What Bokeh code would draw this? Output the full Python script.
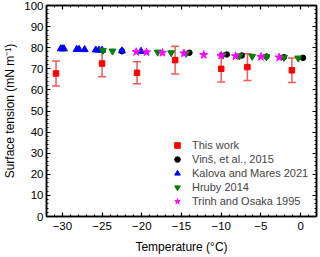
from bokeh.plotting import figure
from bokeh.models import (ColumnDataSource, Whisker, TeeHead, LinearAxis, SingleIntervalTicker,
                          Range1d, Legend, LegendItem, CustomJSTickFormatter)
from bokeh.embed import file_html
from bokeh.resources import INLINE

# ---- data ----
this_T = [-30.8, -25.0, -20.6, -15.8, -10.0, -6.7, -1.1]
this_sigma = [67.8, 72.5, 68.1, 74.1, 70.0, 70.8, 69.3]
this_err = [5.9, 6.3, 5.2, 6.6, 6.3, 6.3, 5.8]

vins_T = [-22.5, -14.0, -9.3, -7.4, -4.3, -2.1, 0.3]
vins_sigma = [78.3, 77.6, 76.8, 76.3, 75.8, 75.5, 75.2]

kalova_T = [-30.2, -30.0, -29.8, -28.2, -27.9, -27.2, -25.8, -25.4, -25.0, -22.5, -20.1]
kalova_sigma = [79.5, 79.5, 79.5, 79.2, 79.2, 79.1, 78.9, 78.9, 78.8, 78.5, 78.3]

hruby_T = [-24.9, -23.7, -18.0, -16.3, -14.4, -9.8, -7.7, -6.1, -4.3, -2.1, -0.3]
hruby_sigma = [78.7, 78.4, 77.9, 77.6, 77.3, 76.5, 76.1, 75.9, 75.7, 75.4, 75.1]

trinh_T = [-20.7, -19.4, -17.4, -14.7, -12.2, -10.0, -8.2, -5.0, -2.7]
trinh_sigma = [78.0, 77.9, 77.6, 77.3, 76.6, 76.3, 76.0, 75.7, 75.4]

labels = ["This work", "Vinš, et al., 2015", "Kalova and Mares 2021",
          "Hruby 2014", "Trinh and Osaka 1995"]

FONT = "Liberation Sans"

p = figure(width=319, height=256, output_backend="svg", toolbar_location=None,
           x_range=Range1d(-32, 2), y_range=Range1d(0, 100),
           min_border_left=41, min_border_right=3, min_border_top=5, min_border_bottom=39)
p.xgrid.visible = False
p.ygrid.visible = False
p.outline_line_color = "black"
p.outline_line_width = 1.5

xt = SingleIntervalTicker(interval=5, num_minor_ticks=5)
yt = SingleIntervalTicker(interval=10, num_minor_ticks=5)
p.xaxis.ticker = xt
p.yaxis.ticker = yt
p.xaxis.axis_label = "Temperature (°C)"
p.yaxis.axis_label = "Surface tension (mN m⁻¹)"

for ax in (p.xaxis[0], p.yaxis[0]):
    ax.major_tick_in = 4
    ax.major_tick_out = 0
    ax.minor_tick_in = 2
    ax.minor_tick_out = 0
    ax.axis_line_width = 1.5
    ax.major_tick_line_width = 1.2
    ax.major_label_text_font = FONT
    ax.major_label_text_font_size = "11.5px"
    ax.major_label_text_color = "black"
    ax.axis_label_text_font = FONT
    ax.axis_label_text_font_size = "12px"
    ax.axis_label_text_font_style = "normal"
    ax.axis_label_text_color = "black"
p.yaxis.major_label_standoff = 3
p.yaxis.axis_label_standoff = 4
p.xaxis.major_label_standoff = 5
p.xaxis.axis_label_standoff = 7

blank = CustomJSTickFormatter(code="return '';")
for side, tk in (("above", xt), ("right", yt)):
    ax = LinearAxis(ticker=tk, formatter=blank, major_label_standoff=0,
                    major_label_text_font_size="1px",
                    major_tick_in=4, major_tick_out=0, minor_tick_in=2, minor_tick_out=0,
                    axis_line_width=1.5, major_tick_line_width=1.2)
    p.add_layout(ax, side)

# error bars
src_this = ColumnDataSource(dict(x=this_T, y=this_sigma,
                                 lo=[s - e for s, e in zip(this_sigma, this_err)],
                                 hi=[s + e for s, e in zip(this_sigma, this_err)]))
ecol = "#f55a5a"
wh = Whisker(base="x", lower="lo", upper="hi", source=src_this,
             line_color=ecol, line_width=1.5,
             upper_head=TeeHead(size=8, line_color=ecol, line_width=1.5),
             lower_head=TeeHead(size=8, line_color=ecol, line_width=1.5))
p.add_layout(wh)

r_this = p.scatter("x", "y", source=src_this, marker="square", size=5.5,
                   fill_color="#ff0000", line_color="#ff0000")
r_vins = p.scatter(vins_T, vins_sigma, marker="circle", size=5.5,
                   fill_color="black", line_color="black")
r_kal = p.scatter(kalova_T, kalova_sigma, marker="triangle", size=7,
                  fill_color="#0000ff", line_color="#0000ff")
r_hru = p.scatter(hruby_T, hruby_sigma, marker="inverted_triangle", size=7,
                  fill_color="#008000", line_color="#008000")
r_tri = p.scatter(trinh_T, trinh_sigma, marker="star", size=8.5,
                  fill_color="#ff00ff", line_color="#ff00ff")

legend = Legend(items=[LegendItem(label=l, renderers=[r]) for l, r in
                       zip(labels, [r_this, r_vins, r_kal, r_hru, r_tri])],
                location=(124, 8), label_text_font=FONT, label_text_font_size="11px",
                glyph_width=14, glyph_height=14, label_height=14, spacing=0,
                label_standoff=8, padding=0, margin=0,
                background_fill_alpha=0, border_line_color=None)
p.add_layout(legend, "center")

open("out.html", "w").write(file_html(p, INLINE))
